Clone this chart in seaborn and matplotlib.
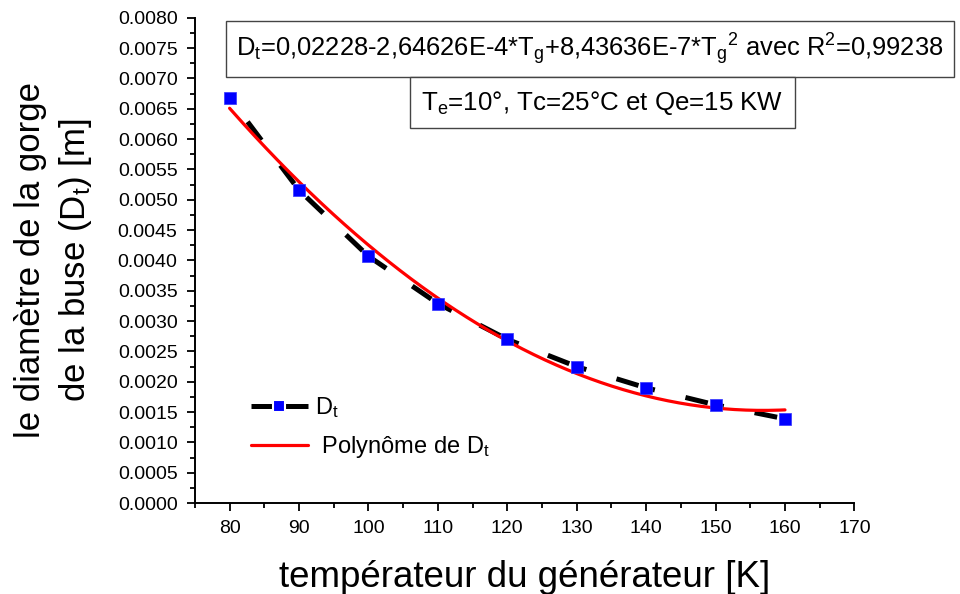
import numpy as np
import pandas as pd
import matplotlib
matplotlib.use("Agg")
import matplotlib.pyplot as plt
from matplotlib.lines import Line2D
import seaborn as sns
from matplotlib.ticker import MultipleLocator, FormatStrFormatter

# Measured throat diameter vs generator temperature
temperature = [80, 90, 100, 110, 120, 130, 140, 150, 160]
diameter = [0.00668, 0.00516, 0.00407, 0.00329, 0.00270, 0.00225, 0.00190, 0.00162, 0.00139]

# Quadratic fit coefficients (c0 + c1*T + c2*T^2)
coef_c0 = 0.02228
coef_c1 = -2.64626e-4
coef_c2 = 8.43636e-7

sns.set_theme(style="ticks")
plt.rcParams["font.family"] = ["Liberation Sans", "DejaVu Sans"]
plt.rcParams["mathtext.fontset"] = "custom"
plt.rcParams["mathtext.rm"] = "Liberation Sans"
plt.rcParams["mathtext.it"] = "Liberation Sans"
plt.rcParams["text.color"] = "black"
plt.rcParams["axes.labelcolor"] = "black"
plt.rcParams["xtick.color"] = "black"
plt.rcParams["ytick.color"] = "black"

fig = plt.figure(figsize=(9.6, 5.94), dpi=100)
ax = fig.add_axes([0.203, 0.153, 0.687, 0.817])

df = pd.DataFrame({"T": temperature, "D": diameter})

# Thick dashed connecting line, dash pattern restarted on each segment
LW = 3.6
dash_style = (9.3, (4.6, 6.3))
for i in range(len(temperature) - 1):
    seg = df.iloc[[i + 1, i]]
    ax.plot(seg["T"], seg["D"], color="black", lw=LW, linestyle=dash_style,
            solid_capstyle="butt", dash_capstyle="butt", zorder=2)

t_fit = np.linspace(min(temperature), max(temperature), 200)
d_fit = coef_c0 + coef_c1 * t_fit + coef_c2 * t_fit ** 2
sns.lineplot(x=t_fit, y=d_fit, ax=ax, color="#ff0000", lw=2.3, zorder=3, legend=False)

sns.scatterplot(data=df, x="T", y="D", ax=ax, marker="s", s=64,
                color="#0000ff", edgecolor="#3333ff", linewidth=0.5, zorder=4, legend=False)

ax.set_xlim(75, 170)
ax.set_ylim(0, 0.008)
ax.xaxis.set_major_locator(MultipleLocator(10))
ax.xaxis.set_minor_locator(MultipleLocator(5))
ax.yaxis.set_major_locator(MultipleLocator(0.0005))
ax.yaxis.set_minor_locator(MultipleLocator(0.00025))
ax.yaxis.set_major_formatter(FormatStrFormatter("%.4f"))
ax.tick_params(axis="both", which="major", length=6, width=1.3, labelsize=14,
               color="black", pad=6.5)
ax.tick_params(axis="both", which="minor", length=3.5, width=1.3, color="black")
for s in ("left", "bottom"):
    ax.spines[s].set_linewidth(1.4)
    ax.spines[s].set_color("black")
sns.despine(ax=ax)

ax.set_xlabel("températeur du générateur [K]", fontsize=26.5, labelpad=16)
ax.set_ylabel("le diamètre de la gorge\nde la buse (D$_\\mathregular{t}$) [m]", fontsize=25,
              labelpad=17, linespacing=1.35)

handles = [
    Line2D([], [], color="black", lw=LW, linestyle="-", marker="s",
           markersize=8, markerfacecolor="#0000ff", markeredgecolor="#ffffff",
           markeredgewidth=1.5, solid_capstyle="butt"),
    Line2D([], [], color="#ff0000", lw=2.3),
]
labels = [r"D$_\mathregular{t}$", r" Polynôme de D$_\mathregular{t}$"]
ax.legend(handles, labels, loc="lower left", bbox_to_anchor=(0.053, 0.045), frameon=False,
          fontsize=17, handlelength=2.4, handletextpad=0.3, labelspacing=0.6, markerscale=1.0)

ax.text(0.063, 0.936,
        r"D$_\mathregular{t}$=0,02228-2,64626E-4*T$_\mathregular{g}$+8,43636E-7*T$_\mathregular{g}$$^\mathregular{2}$ avec R$^\mathregular{2}$=0,99238",
        transform=ax.transAxes, fontsize=18.4, va="center", ha="left",
        bbox=dict(boxstyle="square,pad=0.4", fc="white", ec="#444444", lw=1.0))
ax.text(0.618, 0.825, r"T$_\mathregular{e}$=10°, Tc=25°C et Qe=15 KW",
        transform=ax.transAxes, fontsize=18.6, va="center", ha="center",
        bbox=dict(boxstyle="square,pad=0.45", fc="white", ec="#444444", lw=1.0))

fig.savefig("out.png", dpi=100)
